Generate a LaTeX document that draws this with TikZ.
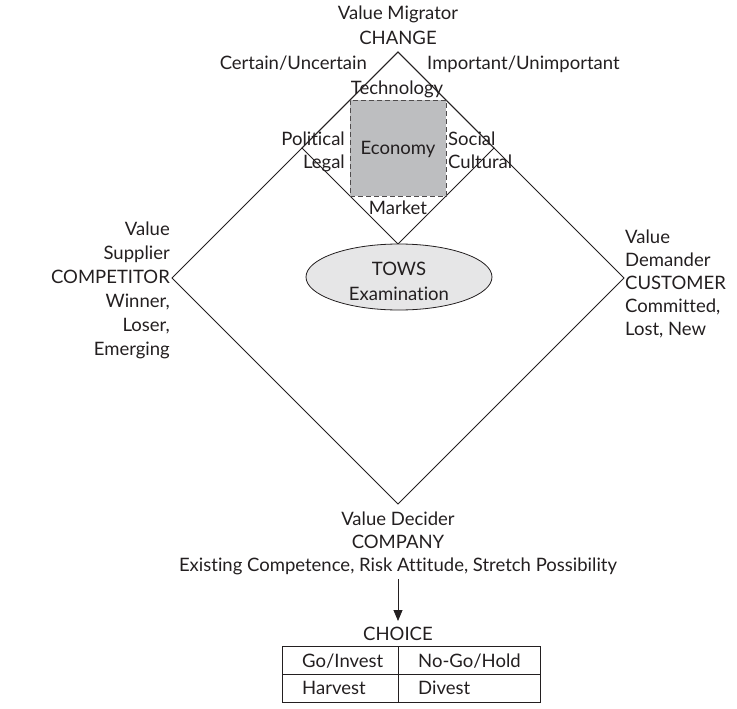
\documentclass[tikz,border=0pt]{standalone}
\usepackage{fontspec}
\setmainfont{Lato}[Ligatures=NoCommon]
\usetikzlibrary{shapes.geometric,arrows.meta}
\definecolor{ink}{RGB}{35,31,32}
\definecolor{econfill}{RGB}{189,190,192}
\definecolor{towsfill}{RGB}{230,230,231}
\begin{document}
\begin{tikzpicture}[x=1pt,y=-1pt,
  lbl/.style={font=\fontsize{18.5}{22}\selectfont, text=ink, inner sep=0pt},
  edge/.style={draw=ink, line width=0.8pt},
  econbox/.style={lbl, draw=ink!80, dashed, dash pattern=on 5pt off 3pt, fill=econfill, line width=0.8pt, minimum width=96pt, minimum height=96pt},
  towsnode/.style={lbl, ellipse, draw=ink, fill=towsfill, line width=0.8pt, minimum width=186pt, minimum height=66pt, align=center},
  cell/.style={draw=ink, line width=0.8pt}
]
\useasboundingbox (0,0) rectangle (737,709);
% big diamond
\coordinate (T) at (398,52);
\coordinate (R) at (624,278);
\coordinate (B) at (398,504);
\coordinate (L) at (172,278);
\draw[edge] (T) -- (R) -- (B) -- (L) -- cycle;
% small diamond
\coordinate (sR) at (494,148);
\coordinate (sB) at (398,244);
\coordinate (sL) at (302,148);
\draw[edge] (T) -- (sR) -- (sB) -- (sL) -- cycle;
% economy square
\node[econbox] (econ) at (398,148) {};
\node[lbl, anchor=base] (econt) at (398,154) {Economy};
% TOWS
\node[towsnode] (tows) at (399,277) {};
\node[lbl, anchor=base] (tows1) at (399,275) {TOWS};
\node[lbl, anchor=base] (tows2) at (399,300) {Examination};
% top labels
\node[lbl, anchor=base] (vm) at (398,20) {Value Migrator};
\node[lbl, anchor=base] (chg) at (398,45) {CHANGE};
\node[lbl, anchor=base east] (cu) at (367,70) {Certain/Uncertain};
\node[lbl, anchor=base west] (iu) at (427,70) {Important/Unimportant};
\node[lbl, anchor=base] (tech) at (397,95) {Technology};
\node[lbl, anchor=base east] (pol) at (345,145) {Political};
\node[lbl, anchor=base east] (leg) at (345,168) {Legal};
\node[lbl, anchor=base west] (soc) at (448,145) {Social};
\node[lbl, anchor=base west] (cul) at (448,168) {Cultural};
\node[lbl, anchor=base] (mkt) at (398,214) {Market};
% left labels
\node[lbl, anchor=base east] (l1) at (170,235) {Value};
\node[lbl, anchor=base east] (l2) at (170,259) {Supplier};
\node[lbl, anchor=base east] (l3) at (170,283) {COMPETITOR};
\node[lbl, anchor=base east] (l4) at (170,307) {Winner,};
\node[lbl, anchor=base east] (l5) at (170,331) {Loser,};
\node[lbl, anchor=base east] (l6) at (170,355) {Emerging};
% right labels
\node[lbl, anchor=base west] (r1) at (625,243) {Value};
\node[lbl, anchor=base west] (r2) at (625,266) {Demander};
\node[lbl, anchor=base west] (r3) at (625,289) {CUSTOMER};
\node[lbl, anchor=base west] (r4) at (625,312) {Committed,};
\node[lbl, anchor=base west] (r5) at (625,335) {Lost, New};
% bottom labels
\node[lbl, anchor=base] (vd) at (398,525) {Value Decider};
\node[lbl, anchor=base] (comp) at (398,548) {COMPANY};
\node[lbl, anchor=base] (ex) at (398,571) {Existing Competence, Risk Attitude, Stretch Possibility};
\coordinate (arrS) at (398,579);
\node[lbl, anchor=base] (choice) at (398,640) {CHOICE};
\coordinate (arrE) at (398,621);
\draw[edge, -{Triangle[length=11pt,width=9pt]}] (arrS) -- (arrE);
% table
\coordinate (tTL) at (282,646);
\coordinate (tBR) at (540,702);
\coordinate (tML) at (282,674);
\coordinate (tMR) at (540,674);
\coordinate (tCT) at (398,646);
\coordinate (tCB) at (398,702);
\draw[cell] (tTL) rectangle (tBR);
\draw[cell] (tML) -- (tMR);
\draw[cell] (tCT) -- (tCB);
\node[lbl, anchor=base west] (c1) at (302,667) {Go/Invest};
\node[lbl, anchor=base west] (c2) at (418,667) {No-Go/Hold};
\node[lbl, anchor=base west] (c3) at (302,694) {Harvest};
\node[lbl, anchor=base west] (c4) at (418,694) {Divest};
\end{tikzpicture}
\end{document}
